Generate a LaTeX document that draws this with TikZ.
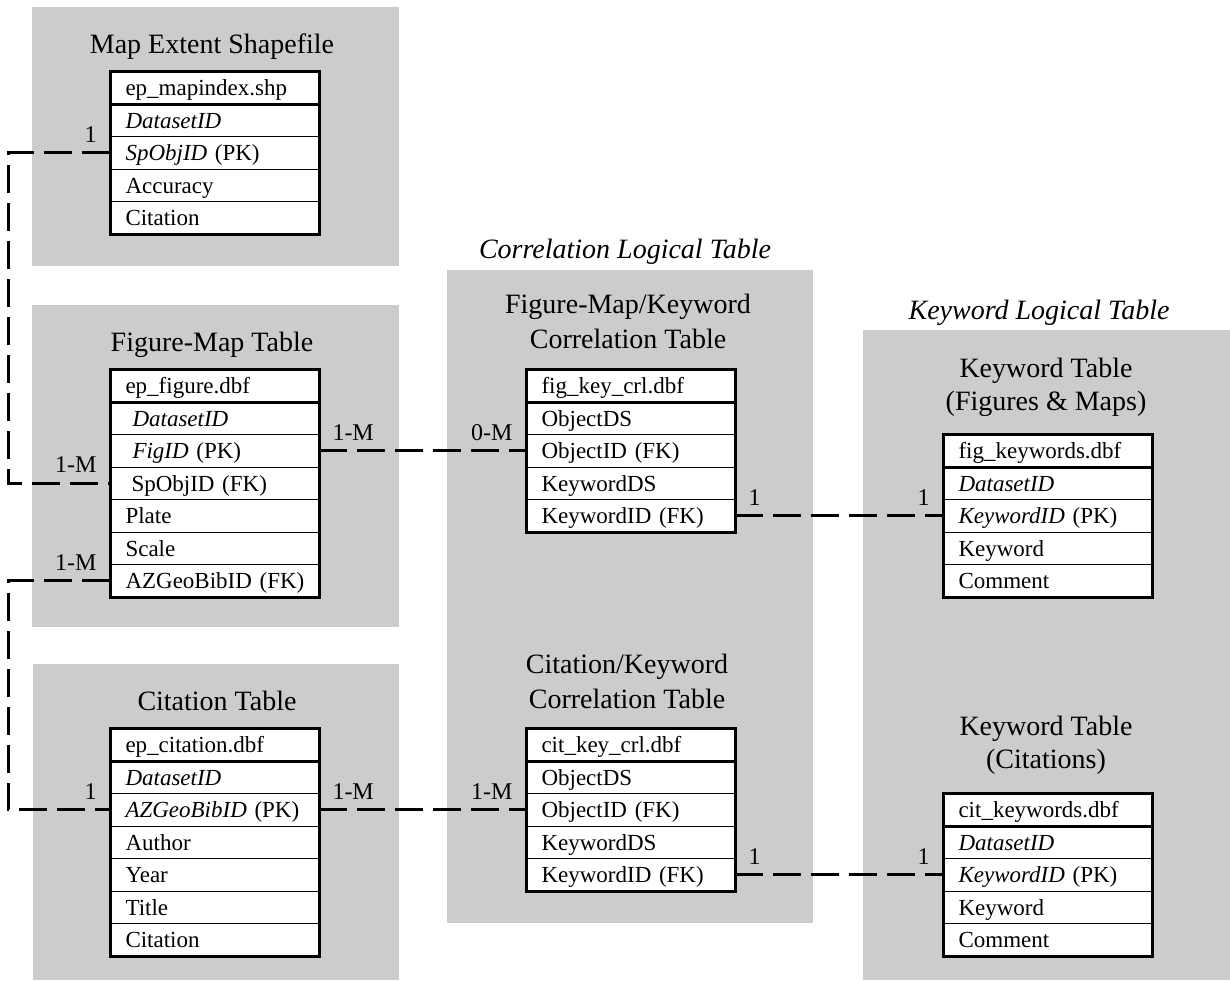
\documentclass[tikz,border=0pt]{standalone}
\usepackage{fontspec}
\setmainfont{Liberation Serif}
\tikzset{
    panel/.style={fill=black!20},
    field/.style={draw=black, line width=1pt, fill=white, anchor=north west, minimum width=208pt, minimum height=32.5pt, text width=190pt, inner xsep=9pt, text height=16pt, text depth=0pt, align=left, font=\fontsize{23}{26}\selectfont, execute at begin node=\hspace*{6pt}},
    frame/.style={line width=3pt},
    heading/.style={anchor=base, font=\fontsize{28}{32}\selectfont},
    link/.style={line width=3pt, dash pattern=on 28pt off 10pt},
    card/.style={font=\fontsize{24}{28}\selectfont, inner xsep=12pt, inner ysep=9pt},
}

\begin{document}
\begin{tikzpicture}[x=1pt, y=-1pt]
    \newcommand\rowH{32.5}
    \newcommand\leftX{110}
    \newcommand\midX{526}
    \newcommand\rightX{943}

    \useasboundingbox (0,0) rectangle (1230,980);

    % grey panels
    \fill[panel] (32,7) rectangle (399,266);
    \fill[panel] (32,305) rectangle (399,627);
    \fill[panel] (33,664) rectangle (399,980);
    \fill[panel] (447,270) rectangle (813,923);
    \fill[panel] (863,330) rectangle (1230,980);

    % map extent shapefile
    \node[heading] (meT) at (212,53) {Map Extent Shapefile};
    \node[field] (me-1) at (\leftX, 71) {ep\_mapindex.shp};
    \node[field] (me-2) at (\leftX, 71+\rowH) {\textit{DatasetID}};
    \node[field] (me-3) at (\leftX, 71+2*\rowH) {\textit{SpObjID} (PK)};
    \node[field] (me-4) at (\leftX, 71+3*\rowH) {Accuracy};
    \node[field] (me-5) at (\leftX, 71+4*\rowH) {Citation};
    \draw[frame] (me-1.north west) rectangle (me-5.south east);
    \draw[frame] (me-1.south west) -- (me-1.south east);

    % figure-map table
    \node[heading] (fmT) at (212,351) {Figure-Map Table};
    \node[field] (fm-1) at (\leftX, 369) {ep\_figure.dbf};
    \node[field] (fm-2) at (\leftX, 369+\rowH) {\hspace{7pt}\textit{DatasetID}};
    \node[field] (fm-3) at (\leftX, 369+2*\rowH) {\hspace{7pt}\textit{FigID} (PK)};
    \node[field] (fm-4) at (\leftX, 369+3*\rowH) {\hspace{6pt}SpObjID (FK)};
    \node[field] (fm-5) at (\leftX, 369+4*\rowH) {Plate};
    \node[field] (fm-6) at (\leftX, 369+5*\rowH) {Scale};
    \node[field] (fm-7) at (\leftX, 369+6*\rowH) {AZGeoBibID (FK)};
    \draw[frame] (fm-1.north west) rectangle (fm-7.south east);
    \draw[frame] (fm-1.south west) -- (fm-1.south east);

    % citation table
    \node[heading] (ctT) at (217,710) {Citation Table};
    \node[field] (ct-1) at (\leftX, 728) {ep\_citation.dbf};
    \node[field] (ct-2) at (\leftX, 728+\rowH) {\textit{DatasetID}};
    \node[field] (ct-3) at (\leftX, 728+2*\rowH) {\textit{AZGeoBibID} (PK)};
    \node[field] (ct-4) at (\leftX, 728+3*\rowH) {Author};
    \node[field] (ct-5) at (\leftX, 728+4*\rowH) {Year};
    \node[field] (ct-6) at (\leftX, 728+5*\rowH) {Title};
    \node[field] (ct-7) at (\leftX, 728+6*\rowH) {Citation};
    \draw[frame] (ct-1.north west) rectangle (ct-7.south east);
    \draw[frame] (ct-1.south west) -- (ct-1.south east);

    % correlation tables
    \node[heading, font=\fontsize{28}{32}\selectfont\itshape] (crlT) at (625,258) {Correlation Logical Table};
    \node[heading] (fkT1) at (628,313) {Figure-Map/Keyword};
    \node[heading] (fkT2) at (628,348) {Correlation Table};
    \node[field] (fk-1) at (\midX, 369) {fig\_key\_crl.dbf};
    \node[field] (fk-2) at (\midX, 369+\rowH) {ObjectDS};
    \node[field] (fk-3) at (\midX, 369+2*\rowH) {ObjectID (FK)};
    \node[field] (fk-4) at (\midX, 369+3*\rowH) {KeywordDS};
    \node[field] (fk-5) at (\midX, 369+4*\rowH) {KeywordID (FK)};
    \draw[frame] (fk-1.north west) rectangle (fk-5.south east);
    \draw[frame] (fk-1.south west) -- (fk-1.south east);

    \node[heading] (ckT1) at (627,673) {Citation/Keyword};
    \node[heading] (ckT2) at (627,708) {Correlation Table};
    \node[field] (ck-1) at (\midX, 728) {cit\_key\_crl.dbf};
    \node[field] (ck-2) at (\midX, 728+\rowH) {ObjectDS};
    \node[field] (ck-3) at (\midX, 728+2*\rowH) {ObjectID (FK)};
    \node[field] (ck-4) at (\midX, 728+3*\rowH) {KeywordDS};
    \node[field] (ck-5) at (\midX, 728+4*\rowH) {KeywordID (FK)};
    \draw[frame] (ck-1.north west) rectangle (ck-5.south east);
    \draw[frame] (ck-1.south west) -- (ck-1.south east);

    % keyword tables
    \node[heading, font=\fontsize{28}{32}\selectfont\itshape] (kwT) at (1039,319) {Keyword Logical Table};
    \node[heading] (kfT1) at (1046,377) {Keyword Table};
    \node[heading] (kfT2) at (1046,410) {(Figures \& Maps)};
    \node[field] (kf-1) at (\rightX, 434) {fig\_keywords.dbf};
    \node[field] (kf-2) at (\rightX, 434+\rowH) {\textit{DatasetID}};
    \node[field] (kf-3) at (\rightX, 434+2*\rowH) {\textit{KeywordID} (PK)};
    \node[field] (kf-4) at (\rightX, 434+3*\rowH) {Keyword};
    \node[field] (kf-5) at (\rightX, 434+4*\rowH) {Comment};
    \draw[frame] (kf-1.north west) rectangle (kf-5.south east);
    \draw[frame] (kf-1.south west) -- (kf-1.south east);

    \node[heading] (kcT1) at (1046,735) {Keyword Table};
    \node[heading] (kcT2) at (1046,768) {(Citations)};
    \node[field] (kc-1) at (\rightX, 793) {cit\_keywords.dbf};
    \node[field] (kc-2) at (\rightX, 793+\rowH) {\textit{DatasetID}};
    \node[field] (kc-3) at (\rightX, 793+2*\rowH) {\textit{KeywordID} (PK)};
    \node[field] (kc-4) at (\rightX, 793+3*\rowH) {Keyword};
    \node[field] (kc-5) at (\rightX, 793+4*\rowH) {Comment};
    \draw[frame] (kc-1.north west) rectangle (kc-5.south east);
    \draw[frame] (kc-1.south west) -- (kc-1.south east);

    % relations
    \coordinate (bend) at (8,0);
    \draw[link] (me-3.west) node[card, above left]{1} -- (me-3.west -| bend) |- (fm-4.west) node[card, above left]{1-M};
    \draw[link] (fm-7.west) node[card, above left]{1-M} -- (fm-7.west -| bend) |- (ct-3.west) node[card, above left]{1};
    \draw[link] (fm-3.east) node[card, above right]{1-M} -- (fk-3.west) node[card, above left]{0-M};
    \draw[link] (ct-3.east) node[card, above right]{1-M} -- (ck-3.west) node[card, above left]{1-M};
    \draw[link] (fk-5.east) node[card, above right]{1} -- (kf-3.west) node[card, above left]{1};
    \draw[link] (ck-5.east) node[card, above right]{1} -- (kc-3.west) node[card, above left]{1};
\end{tikzpicture}
\end{document}
